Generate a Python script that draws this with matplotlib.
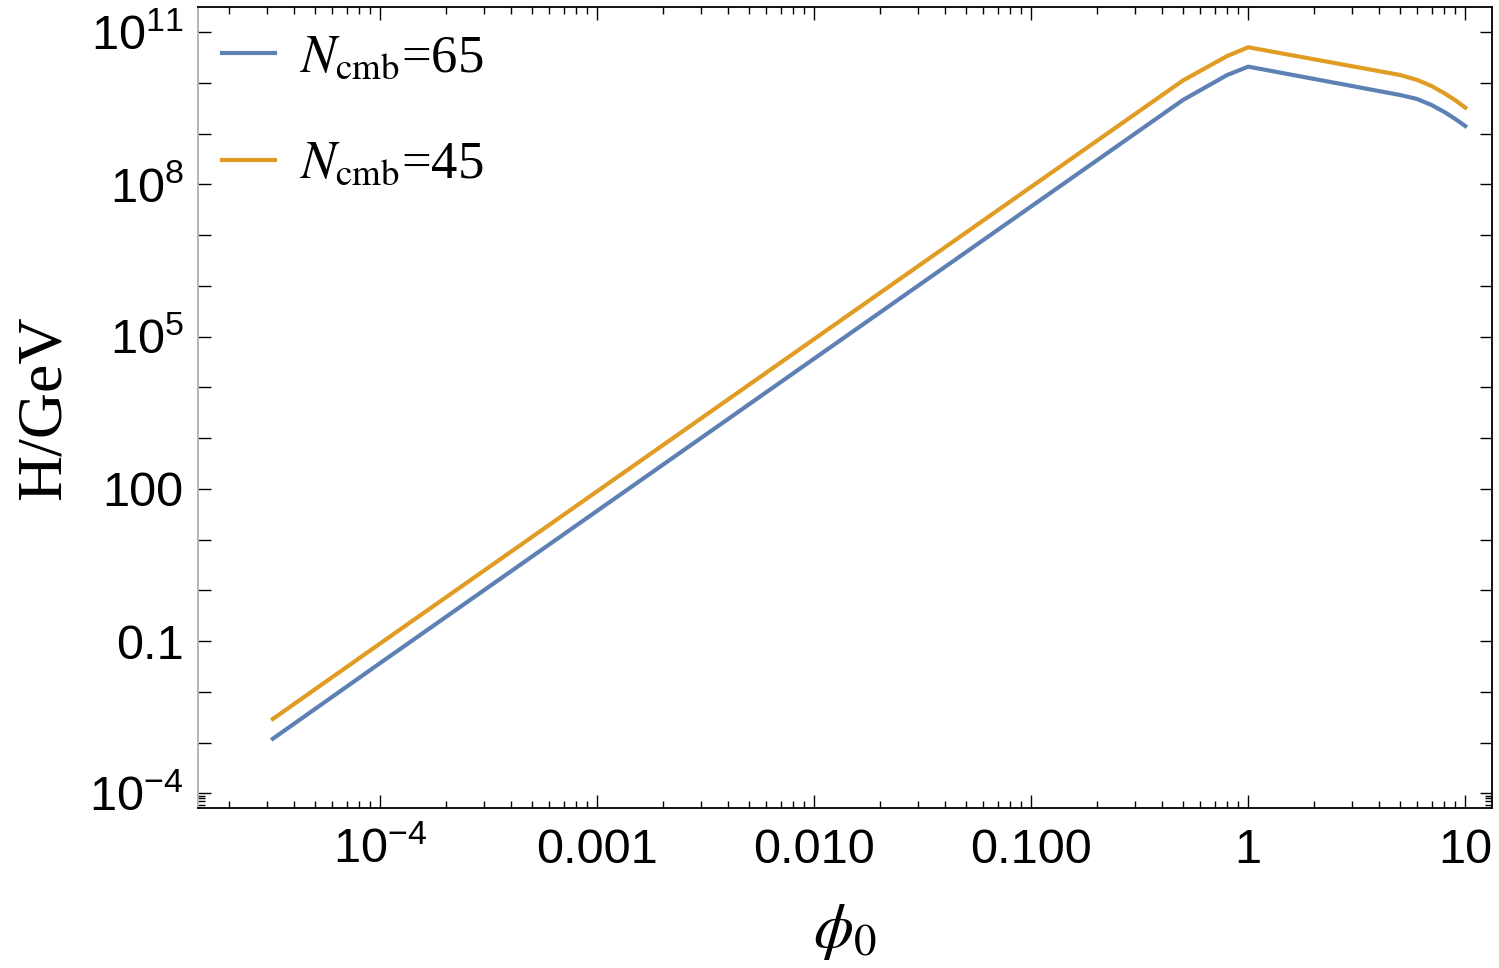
import matplotlib
matplotlib.use("Agg")
import matplotlib.pyplot as plt
from matplotlib.ticker import FixedLocator, FixedFormatter, NullFormatter

plt.rcParams['font.family'] = ['Liberation Sans', 'DejaVu Sans']
plt.rcParams['mathtext.fontset'] = 'custom'
plt.rcParams['mathtext.rm'] = 'Liberation Sans'
plt.rcParams['mathtext.it'] = 'Liberation Sans:italic'

# phi_0 sample points and H/GeV
phi0 = [3.2e-5, 1e-4, 1e-3, 1e-2, 0.1, 0.5, 0.8, 1, 5, 6, 7, 8, 9, 10]
H_65 = [1.19e-3, 3.7e-2, 37, 3.7e4, 3.7e7, 4.62e9, 1.44e10, 2.10e10,
        5.81e9, 4.84e9, 3.67e9, 2.69e9, 1.95e9, 1.42e9]
H_45 = [2.92e-3, 9.0e-2, 90, 9.0e4, 9.0e7, 1.12e10, 3.41e10, 5.06e10,
        1.44e10, 1.15e10, 8.7e9, 6.3e9, 4.57e9, 3.27e9]

xticks = [1e-4, 1e-3, 1e-2, 0.1, 1, 10]
xticklabels = [r'$10^{-4}$', '0.001', '0.010', '0.100', '1', '10']
yticks = [1e-4, 1e-3, 1e-2, 0.1, 1, 10, 100, 1e3, 1e4, 1e5, 1e6, 1e7, 1e8, 1e9, 1e10, 1e11]
yticklabels = [r'$10^{-4}$', '', '', '0.1', '', '', '100', '', '', r'$10^{5}$',
               '', '', r'$10^{8}$', '', '', r'$10^{11}$']

fig = plt.figure(figsize=(14.99, 9.68), dpi=100)
ax = fig.add_axes([0.1318, 0.165, 0.8633, 0.8275])

ax.plot(phi0, H_65, color='#5E81B5', lw=3.0, label=r'$N_{\mathrm{cmb}}$=65')
ax.plot(phi0, H_45, color='#E19C24', lw=3.0, label=r'$N_{\mathrm{cmb}}$=45')

ax.set_xscale('log')
ax.set_yscale('log')
ax.set_xlim(10**-4.842, 10**1.1216)
ax.set_ylim(10**-4.296, 10**11.493)

ax.xaxis.set_major_locator(FixedLocator(xticks))
ax.xaxis.set_major_formatter(FixedFormatter(xticklabels))
xminor = [m * 10.0**e for e in range(-5, 2) for m in range(2, 10)]
ax.xaxis.set_minor_locator(FixedLocator(xminor))
ax.xaxis.set_minor_formatter(NullFormatter())

ax.yaxis.set_major_locator(FixedLocator(yticks))
ax.yaxis.set_major_formatter(FixedFormatter(yticklabels))
ax.yaxis.set_minor_locator(FixedLocator([6e-5, 7e-5, 8e-5, 9e-5]))
ax.yaxis.set_minor_formatter(NullFormatter())

ax.tick_params(which='both', direction='in', top=True, right=True, width=1.0)
ax.tick_params(axis='x', which='major', length=9.5, labelsize=35, pad=14)
ax.tick_params(axis='x', which='minor', length=5)
ax.tick_params(axis='y', which='major', length=9, labelsize=35, pad=10)
ax.tick_params(axis='y', which='minor', length=5)

for s in ax.spines.values():
    s.set_linewidth(1.3)
ax.spines['left'].set_color('#b0b0b0')

ax.set_xlabel(r'$\phi_0$', fontsize=46, math_fontfamily='stix', labelpad=21)
ax.set_ylabel('H/GeV', fontsize=46, family='Liberation Serif', labelpad=11)

leg = ax.legend(loc='upper left', bbox_to_anchor=(0.019, 0.966), frameon=False,
                prop={'family': 'Liberation Serif', 'size': 38, 'math_fontfamily': 'stix'},
                handlelength=1.0, handletextpad=0.45, labelspacing=1.11,
                borderpad=0, borderaxespad=0)

fig.savefig('out.png', dpi=100)
